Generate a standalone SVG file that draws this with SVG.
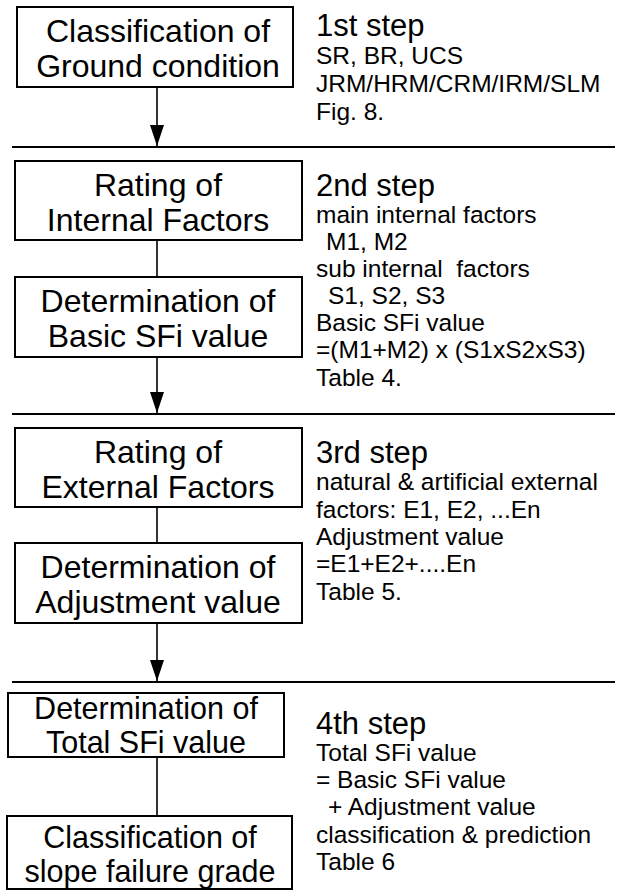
<svg xmlns="http://www.w3.org/2000/svg" width="626" height="890" viewBox="0 0 626 890">
<defs>
<style>
.box{fill:#fff;stroke:#000;stroke-width:2}
.bt{font-family:"Liberation Sans",Arial,sans-serif;font-size:32px;text-anchor:middle;fill:#000}
.bs{font-size:30.5px}
.hd{font-family:"Liberation Sans",Arial,sans-serif;font-size:31px;fill:#000}
.st{font-family:"Liberation Sans",Arial,sans-serif;font-size:24.5px;fill:#000}
.ln{stroke:#000;stroke-width:1.6;fill:none}
.sep{stroke:#000;stroke-width:2.2}
</style>
</defs>
<rect width="626" height="890" fill="#fff"/>
<g id="separators">
<line class="sep" x1="12" y1="147" x2="615" y2="147"/>
<line class="sep" x1="12" y1="414" x2="615" y2="414"/>
<line class="sep" x1="12" y1="682" x2="615" y2="682"/>
</g>
<g id="connectors">
<line class="ln" x1="157" y1="87" x2="157" y2="146"/>
<path d="M150,125 L164,125 L157,146 Z" fill="#000"/>
<line class="ln" x1="157" y1="240" x2="157" y2="277"/>
<line class="ln" x1="157" y1="357" x2="157" y2="413"/>
<path d="M150,392 L164,392 L157,413 Z" fill="#000"/>
<line class="ln" x1="157" y1="507" x2="157" y2="543"/>
<line class="ln" x1="157" y1="623" x2="157" y2="681"/>
<path d="M150,660 L164,660 L157,681 Z" fill="#000"/>
<line class="ln" x1="157" y1="757" x2="157" y2="816"/>
</g>
<g id="n1">
<rect class="box" x="17" y="7" width="276" height="80"/>
<text class="bt" x="158" y="42">Classification of</text>
<text class="bt" x="158" y="77">Ground condition</text>
</g>
<g id="n2">
<rect class="box" x="15" y="161" width="287" height="79"/>
<text class="bt" x="158" y="196">Rating of</text>
<text class="bt" x="158" y="231">Internal Factors</text>
</g>
<g id="n3">
<rect class="box" x="15" y="277" width="287" height="80"/>
<text class="bt" x="158" y="312">Determination of</text>
<text class="bt" x="158" y="347">Basic SFi value</text>
</g>
<g id="n4">
<rect class="box" x="15" y="428" width="287" height="79"/>
<text class="bt" x="158" y="463">Rating of</text>
<text class="bt" x="158" y="498">External Factors</text>
</g>
<g id="n5">
<rect class="box" x="15" y="543" width="287" height="80"/>
<text class="bt" x="158" y="578">Determination of</text>
<text class="bt" x="158" y="613">Adjustment value</text>
</g>
<g id="n6">
<rect class="box" x="8" y="693" width="276" height="64"/>
<text class="bt bs" x="146" y="719">Determination of</text>
<text class="bt bs" x="146" y="753">Total SFi value</text>
</g>
<g id="n7">
<rect class="box" x="7" y="816" width="285" height="73"/>
<text class="bt bs" x="150" y="848">Classification of</text>
<text class="bt bs" x="150" y="882">slope failure grade</text>
</g>
<g id="step1">
<text class="hd" x="316" y="36">1st step</text>
<text class="st" x="316" y="64">SR, BR, UCS</text>
<text class="st" x="316" y="92">JRM/HRM/CRM/IRM/SLM</text>
<text class="st" x="316" y="120">Fig. 8.</text>
</g>
<g id="step2">
<text class="hd" x="316" y="196">2nd step</text>
<text class="st" x="316" y="223">main internal factors</text>
<text class="st" x="326" y="250">M1, M2</text>
<text class="st" x="316" y="277" xml:space="preserve">sub internal  factors</text>
<text class="st" x="328" y="304">S1, S2, S3</text>
<text class="st" x="316" y="331">Basic SFi value</text>
<text class="st" x="316" y="358">=(M1+M2) x (S1xS2xS3)</text>
<text class="st" x="316" y="386">Table 4.</text>
</g>
<g id="step3">
<text class="hd" x="316" y="463">3rd step</text>
<text class="st" x="316" y="490">natural &amp; artificial external</text>
<text class="st" x="316" y="518">factors: E1, E2, ...En</text>
<text class="st" x="316" y="545">Adjustment value</text>
<text class="st" x="316" y="572">=E1+E2+....En</text>
<text class="st" x="316" y="600">Table 5.</text>
</g>
<g id="step4">
<text class="hd" x="316" y="734">4th step</text>
<text class="st" x="316" y="761">Total SFi value</text>
<text class="st" x="316" y="788">= Basic SFi value</text>
<text class="st" x="328" y="815">+ Adjustment value</text>
<text class="st" x="316" y="843">classification &amp; prediction</text>
<text class="st" x="316" y="870">Table 6</text>
</g>
</svg>
